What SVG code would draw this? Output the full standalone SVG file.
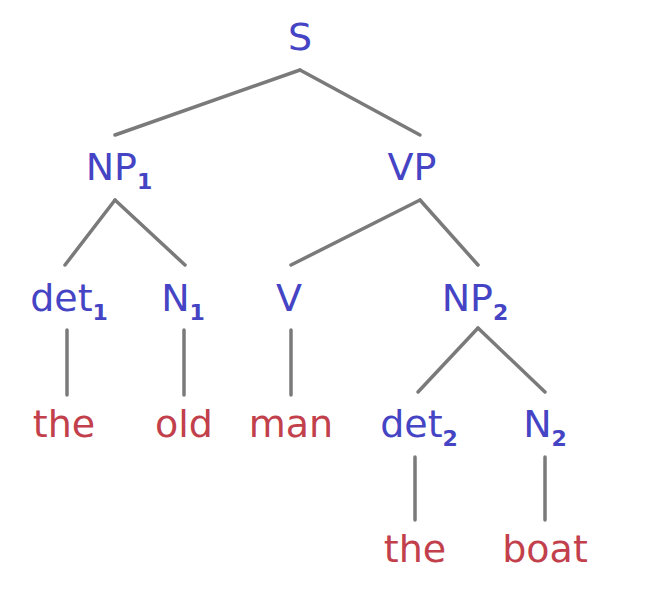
<svg xmlns="http://www.w3.org/2000/svg" width="658" height="608" viewBox="0 0 658 608">
<style>
.cat{font-family:"DejaVu Sans",Verdana,sans-serif;font-size:38px;fill:#4444c4;text-anchor:middle}
.word{font-family:"DejaVu Sans",Verdana,sans-serif;font-size:38px;fill:#c2404c;text-anchor:middle}
.sub{font-size:22px;font-weight:bold}
#edges line{stroke:#7a7a7a;stroke-width:3.5;stroke-linecap:round}
</style>
<rect width="658" height="608" fill="#ffffff"/>
<g id="edges">
<line x1="300" y1="70" x2="115" y2="135"/>
<line x1="300" y1="70" x2="420" y2="135"/>
<line x1="115" y1="200" x2="65" y2="265"/>
<line x1="115" y1="200" x2="185" y2="265"/>
<line x1="420" y1="200" x2="291" y2="265"/>
<line x1="420" y1="200" x2="478" y2="265"/>
<line x1="67" y1="330" x2="67" y2="395"/>
<line x1="184" y1="330" x2="184" y2="395"/>
<line x1="291" y1="330" x2="291" y2="395"/>
<line x1="478" y1="328" x2="418" y2="392"/>
<line x1="478" y1="328" x2="545" y2="392"/>
<line x1="415" y1="457" x2="415" y2="520"/>
<line x1="545" y1="457" x2="545" y2="520"/>
</g>
<g id="S"><text class="cat" x="300" y="50">S</text></g>
<g id="NP1"><text class="cat" x="119" y="180">NP<tspan class="sub" dy="9">1</tspan></text></g>
<g id="VP"><text class="cat" x="412" y="180">VP</text></g>
<g id="det1"><text class="cat" x="69" y="311">det<tspan class="sub" dy="9">1</tspan></text></g>
<g id="N1"><text class="cat" x="183" y="311">N<tspan class="sub" dy="9">1</tspan></text></g>
<g id="V"><text class="cat" x="289" y="311">V</text></g>
<g id="NP2"><text class="cat" x="475" y="311">NP<tspan class="sub" dy="9">2</tspan></text></g>
<g id="the1"><text class="word" x="64" y="437">the</text></g>
<g id="old"><text class="word" x="184" y="437">old</text></g>
<g id="man"><text class="word" x="291" y="437">man</text></g>
<g id="det2"><text class="cat" x="419" y="437">det<tspan class="sub" dy="9">2</tspan></text></g>
<g id="N2"><text class="cat" x="545" y="437">N<tspan class="sub" dy="9">2</tspan></text></g>
<g id="the2"><text class="word" x="415" y="562">the</text></g>
<g id="boat"><text class="word" x="545" y="562">boat</text></g>
</svg>
